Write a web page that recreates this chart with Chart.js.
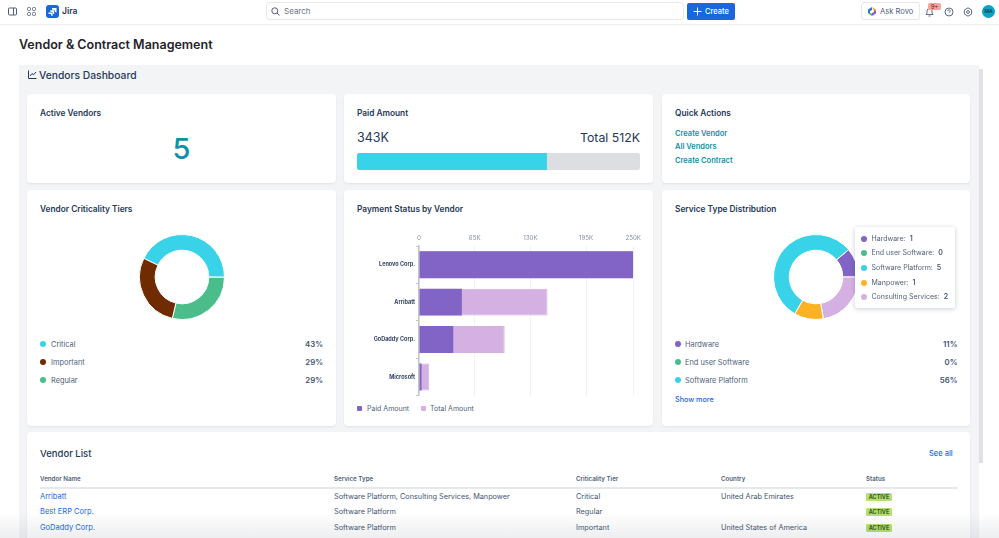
<!DOCTYPE html>
<html>
<head>
<meta charset="utf-8">
<title>Vendor & Contract Management</title>
<script src="https://cdn.jsdelivr.net/npm/chart.js@4/dist/chart.umd.min.js"></script>
<style>
  html, body { margin: 0; padding: 0; background: #fff; overflow: hidden; }
  body { width: 999px; height: 538px; position: relative; font-family: Inter, "Noto Sans", sans-serif; color: #172b4d; }
  .abs { position: absolute; }
  .t { position: absolute; white-space: nowrap; line-height: 12px; height: 12px; }
  .card { position: absolute; background: #fff; border-radius: 4px; box-shadow: 0 1px 2px rgba(9, 30, 66, .08); }
  .title { font-size: 8.3px; font-weight: 600; color: #253858; }
  .qa { font-size: 7.5px; font-weight: 600; color: #148fa8; }
  .lg { font-size: 7.4px; color: #505f79; }
  .pct { font-size: 7.8px; font-weight: 600; color: #44546f; text-align: right; }
  .dot { position: absolute; width: 6px; height: 6px; border-radius: 50%; }
  .sq { position: absolute; width: 5px; height: 5px; border-radius: 1px; }
  .th { font-size: 6.2px; font-weight: 600; color: #505f79; }
  .td { font-size: 7.3px; color: #44546f; }
  .link { font-size: 7.5px; color: #1868db; }
  .badge { position: absolute; width: 26px; height: 8px; background: #b3df72; border-radius: 1.5px; font-size: 5.5px; font-weight: 700; color: #3a5a14; text-align: center; line-height: 8px; }
  canvas { position: absolute; display: block; }
  #tip { position: absolute; left: 854.5px; top: 227px; width: 100px; height: 81px; background: #fff; border-radius: 2px; box-shadow: 0 1px 5px rgba(9, 30, 66, .22); z-index: 5; }
</style>
</head>
<body>

<!-- top bar -->
<div class="abs" style="left:0;top:0;width:999px;height:24px;border-bottom:1px solid #eceef0"></div>
<svg class="abs" style="left:8px;top:7px" width="9" height="9" viewBox="0 0 9 9" fill="none" stroke="#505f79"><rect x=".5" y="1" width="8" height="7" rx="1"/><path d="M5.5 1v7"/></svg>
<svg class="abs" style="left:27px;top:7px" width="9" height="9" viewBox="0 0 9 9" fill="none" stroke="#505f79" stroke-width=".9"><rect x=".5" y=".5" width="3" height="3" rx="1"/><rect x="5.5" y=".5" width="3" height="3" rx="1"/><rect x=".5" y="5.5" width="3" height="3" rx="1"/><rect x="5.5" y="5.5" width="3" height="3" rx="1"/></svg>
<svg class="abs" style="left:46px;top:5px" width="13" height="13" viewBox="0 0 13 13"><rect width="13" height="13" rx="3" fill="#1868db"/><path d="M6 3h4.500v4.500a1.800 1.800 0 0 1-1.800-1.800V4.800H6zM4.200 5.200h4v4a1.600 1.600 0 0 1-1.600-1.600V6.800H4.200zM2.500 7.500h4v3.500a1.600 1.600 0 0 1-1.600-1.600v-.4H2.500z" fill="#fff"/></svg>
<div class="t" style="left:62px;top:5px;font-size:8.5px;font-weight:600;color:#253858">Jira</div>
<div class="abs" style="left:266px;top:2px;width:416px;height:16px;border:1px solid #e6e8eb;border-radius:3px"></div>
<svg class="abs" style="left:271px;top:7px" width="9" height="9" viewBox="0 0 9 9" fill="none" stroke="#505f79"><circle cx="3.800" cy="3.800" r="3"/><path d="M6 6l2.500 2.500"/></svg>
<div class="t" style="left:284px;top:5px;font-size:8px;color:#6b778c">Search</div>
<div class="abs" style="left:687px;top:3px;width:48px;height:17px;background:#1868db;border-radius:2px"></div>
<svg class="abs" style="left:693px;top:7px" width="9" height="9" viewBox="0 0 9 9" stroke="#fff"><path d="M4.500 .5v8M.5 4.500h8"/></svg>
<div class="t" style="left:705px;top:6px;font-size:7.500px;font-weight:500;color:#fff">Create</div>
<div class="abs" style="left:861px;top:2px;width:57px;height:16px;border:1px solid #e6e8eb;border-radius:3px"></div>
<svg class="abs" style="left:868px;top:7px" width="8" height="9" viewBox="0 0 8 9"><path d="M0 2.500L4 0v3L2 4v3L0 6z" fill="#2f6fe0"/><path d="M4 0l4 2.500v2L5.500 3z" fill="#f5a623"/><path d="M8 4v2.500L4 9V6l2-1V3z" fill="#8a5cd6"/><path d="M0 6l4 3V7L2 5.500z" fill="#38b26a"/></svg>
<div class="t" style="left:880px;top:6px;font-size:7.600px;color:#505f79">Ask Rovo</div>
<svg class="abs" style="left:925px;top:7px" width="9" height="10" viewBox="0 0 9 10" fill="none" stroke="#505f79" stroke-width=".9"><path d="M1 7.500h7L7 6V4a2.500 2.500 0 0 0-5 0v2zM3.500 9h2"/></svg>
<div class="abs" style="left:928px;top:3px;width:13px;height:7px;background:#f8a5a0;border-radius:1.5px;font-size:6px;color:#6b1c14;text-align:center;line-height:7px">9+</div>
<svg class="abs" style="left:944px;top:7px" width="10" height="10" viewBox="0 0 10 10" fill="none" stroke="#505f79" stroke-width=".9"><circle cx="5" cy="5" r="4"/><path d="M3.800 4a1.200 1.200 0 1 1 1.600 1.100c-.3.200-.4.400-.4.800M5 7.300v.3"/></svg>
<svg class="abs" style="left:963px;top:7px" width="10" height="10" viewBox="0 0 10 10" fill="none" stroke="#505f79" stroke-width=".9"><path d="M5 .8l3.600 2.100v4.200L5 9.200 1.400 7.100V2.900z" stroke-linejoin="round"/><circle cx="5" cy="5" r="1.400"/></svg>
<div class="abs" style="left:982px;top:5px;width:13px;height:13px;border-radius:50%;background:#0aa3c4;font-size:5px;font-weight:600;color:#12404d;text-align:center;line-height:13px">MA</div>

<div class="t" style="left:19px;top:38px;font-size:12.500px;font-weight:600;color:#1f2329;line-height:14px;height:14px">Vendor &amp; Contract Management</div>

<!-- dashboard panel -->
<div class="abs" style="left:19px;top:65px;width:960px;height:473px;background:#f3f4f6"></div>
<div class="abs" style="left:979px;top:69px;width:4px;height:394px;background:#dfe1e5"></div>
<svg class="abs" style="left:27.500px;top:70px" width="9" height="9" viewBox="0 0 9 9" fill="none" stroke="#253858"><path d="M.5 .5v8h8M2 6l2-2.500 1.500 1.300L8 2"/></svg>
<div class="t" style="left:39px;top:69px;font-size:10.300px;font-weight:500;color:#253858">Vendors Dashboard</div>

<div class="card" style="left:27px;top:94px;width:309px;height:89px"></div>
<div class="card" style="left:344px;top:94px;width:309px;height:89px"></div>
<div class="card" style="left:662px;top:94px;width:308px;height:89px"></div>
<div class="card" style="left:27px;top:190px;width:309px;height:236px"></div>
<div class="card" style="left:344px;top:190px;width:309px;height:236px"></div>
<div class="card" style="left:662px;top:190px;width:308px;height:236px"></div>
<div class="card" style="left:27px;top:432px;width:943px;height:120px"></div>

<div class="t title" style="left:40px;top:107px">Active Vendors</div>
<div class="t" style="left:27px;width:309px;text-align:center;top:130px;height:38px;line-height:38px;font-size:29px;font-weight:500;color:#0f8fa8">5</div>

<div class="t title" style="left:357px;top:107px">Paid Amount</div>
<div class="t" style="left:357px;top:132px;font-size:12.500px;color:#253858">343K</div>
<div class="t" style="left:540px;width:100px;text-align:right;top:132px;font-size:12.300px;color:#253858">Total 512K</div>
<canvas id="progress" width="283" height="17" style="left:357px;top:153px"></canvas>

<div class="t title" style="left:675px;top:107px">Quick Actions</div>
<div class="t qa" style="left:675px;top:128px">Create Vendor</div>
<div class="t qa" style="left:675px;top:141px">All Vendors</div>
<div class="t qa" style="left:675px;top:155px">Create Contract</div>

<div class="t title" style="left:40px;top:203px">Vendor Criticality Tiers</div>
<canvas id="tiers" width="86" height="86" style="left:138.500px;top:234px"></canvas>
<div id="tiersLegend"></div>

<div class="t title" style="left:357px;top:203px">Payment Status by Vendor</div>
<canvas id="payments" width="300" height="171" style="left:345px;top:229px"></canvas>
<div id="paymentsLegend"></div>

<div class="t title" style="left:675px;top:203px">Service Type Distribution</div>
<canvas id="services" width="86" height="86" style="left:773.300px;top:234px"></canvas>
<div id="servicesLegend"></div>
<div class="t link" style="left:675px;top:394px;font-size:7.200px;font-weight:500">Show more</div>
<div id="tip"></div>

<div class="t" style="left:40px;top:448px;font-size:9.500px;font-weight:500;color:#253858">Vendor List</div>
<div class="t link" style="left:929px;top:448px;font-weight:500">See all</div>
<div id="vendorTable"></div>
<div class="abs" style="left:40px;top:487px;width:918px;height:1.500px;background:#e6e8eb"></div>

<!-- fade at the bottom edge of the page -->
<div class="abs" style="left:0;top:512px;width:999px;height:26px;z-index:9;background:linear-gradient(rgba(60,70,90,0),rgba(60,70,90,.09))"></div>

<script>
const vendors = ['Lenovo Corp.', 'Arribatt', 'GoDaddy Corp.', 'Microsoft'];
const paidAmount = [250000, 50000, 40000, 3000];
const totalAmount = [250000, 150000, 100000, 12000];
const paymentTicks = [0, 65000, 130000, 195000, 250000];

const paidTotal = [343000];
const contractTotal = [512000];

const tierLabels = ['Critical', 'Important', 'Regular'];
const tierCounts = [3, 2, 2];
const tierPercents = ['43%', '29%', '29%'];
const tierColors = ['#38d3e8', '#702b00', '#4bbd8b'];

const serviceLabels = ['Hardware', 'End user Software', 'Software Platform', 'Manpower', 'Consulting Services'];
const serviceCounts = [1, 0, 5, 1, 2];
const servicePercents = ['11%', '0%', '56%'];
const serviceColors = ['#8264c6', '#4bbd8b', '#38d3e8', '#fdb125', '#d5b1e3'];

const tableHeads = ['Vendor Name', 'Service Type', 'Criticality Tier', 'Country', 'Status'];
const tableRows = [
  ['Arribatt', 'Software Platform, Consulting Services, Manpower', 'Critical', 'United Arab Emirates', 'ACTIVE'],
  ['Best ERP Corp.', 'Software Platform', 'Regular', '', 'ACTIVE'],
  ['GoDaddy Corp.', 'Software Platform', 'Important', 'United States of America', 'ACTIVE']
];
const tableX = [40, 334, 576, 721, 866];
const tableY = [491, 506, 522];

// the donuts run the other way round: first slice, then the rest backwards
function backwards(list) {
  return [list[0]].concat(list.slice(1).reverse());
}

function addHtml(id, html) {
  document.getElementById(id).innerHTML += html;
}

// legend rows under the donuts
function legendRows(id, labels, percents, colors, dotX, textX, pctRight) {
  percents.forEach(function (p, i) {
    const y = 338 + i * 18;
    addHtml(id,
      '<div class="dot" style="left:' + dotX + 'px;top:' + (y + 3) + 'px;background:' + colors[i] + '"></div>' +
      '<div class="t lg" style="left:' + textX + 'px;top:' + (y + 0.6) + 'px">' + labels[i] + '</div>' +
      '<div class="t pct" style="left:' + (pctRight - 40) + 'px;width:40px;top:' + y + 'px">' + p + '</div>');
  });
}
legendRows('tiersLegend', tierLabels, tierPercents, tierColors, 40, 51, 323);
legendRows('servicesLegend', serviceLabels, servicePercents, serviceColors, 674.7, 685, 957.5);

// tooltip over the service donut
serviceLabels.forEach(function (label, i) {
  const y = 5.5 + i * 14.7;
  addHtml('tip',
    '<div class="dot" style="left:6.500px;top:' + (y + 3) + 'px;background:' + serviceColors[i] + '"></div>' +
    '<div class="t lg" style="left:17px;top:' + y + 'px;font-size:7px">' + label + ':&nbsp; <b style="font-weight:600;color:#44546f">' + serviceCounts[i] + '</b></div>');
});

addHtml('paymentsLegend',
  '<div class="sq" style="left:357px;top:405.500px;background:#8264c6"></div>' +
  '<div class="t lg" style="left:367px;top:402.500px;font-size:7px">Paid Amount</div>' +
  '<div class="sq" style="left:421px;top:405.500px;background:#d5b1e3"></div>' +
  '<div class="t lg" style="left:430px;top:402.500px;font-size:7px">Total Amount</div>');

tableHeads.forEach(function (head, c) {
  addHtml('vendorTable', '<div class="t th" style="left:' + tableX[c] + 'px;top:473px">' + head + '</div>');
});
tableRows.forEach(function (row, r) {
  row.forEach(function (cell, c) {
    if (c === 4) {
      addHtml('vendorTable', '<div class="badge" style="left:' + tableX[c] + 'px;top:' + (tableY[r] + 2) + 'px">' + cell + '</div>');
    } else {
      addHtml('vendorTable', '<div class="t ' + (c === 0 ? 'link' : 'td') + '" style="left:' + tableX[c] + 'px;top:' + tableY[r] + 'px">' + cell + '</div>');
    }
  });
});

Chart.defaults.font.family = 'Inter';
Chart.defaults.animation = false;
Chart.defaults.responsive = false;
Chart.defaults.maintainAspectRatio = false;
Chart.defaults.plugins.legend.display = false;
Chart.defaults.plugins.tooltip.enabled = false;

function donut(id, counts, colors, rotation) {
  return new Chart(document.getElementById(id), {
    type: 'doughnut',
    data: {
      labels: id === 'tiers' ? backwards(tierLabels) : backwards(serviceLabels),
      datasets: [{
        data: backwards(counts),
        backgroundColor: backwards(colors),
        borderColor: '#fff',
        borderWidth: 1
      }]
    },
    options: { cutout: '63%', rotation: rotation }
  });
}
donut('tiers', tierCounts, tierColors, -64);
donut('services', serviceCounts, serviceColors, 50);

new Chart(document.getElementById('progress'), {
  type: 'bar',
  data: {
    labels: ['Paid'],
    datasets: [
      { data: paidTotal, backgroundColor: '#38d3e8', borderRadius: { topLeft: 4, bottomLeft: 4 }, borderSkipped: false, order: 1 },
      { data: contractTotal, backgroundColor: '#dddee2', borderRadius: 4, borderSkipped: false, order: 2 }
    ]
  },
  options: {
    indexAxis: 'y',
    grouped: false,
    barPercentage: 1,
    categoryPercentage: 1,
    layout: { padding: 0 },
    scales: {
      x: { display: false, min: 0, max: contractTotal[0] },
      y: { display: false }
    }
  }
});

new Chart(document.getElementById('payments'), {
  type: 'bar',
  data: {
    labels: vendors,
    datasets: [
      { label: 'Paid Amount', data: paidAmount, backgroundColor: '#8264c6', order: 1 },
      { label: 'Total Amount', data: totalAmount, backgroundColor: '#d5b1e3', borderColor: '#d5b1e3', borderWidth: 1, order: 2 }
    ]
  },
  options: {
    indexAxis: 'y',
    grouped: false,
    layout: { padding: { right: 6 } },
    scales: {
      x: {
        position: 'top',
        min: 0,
        max: 250000,
        afterBuildTicks: function (axis) { axis.ticks = paymentTicks.map(function (v) { return { value: v }; }); },
        afterFit: function (axis) { axis.height = 17; },
        grid: { color: '#f1f2f4', drawTicks: false },
        border: { display: false },
        ticks: {
          padding: 4,
          maxRotation: 0,
          color: '#8590a2',
          font: { size: 6.2 },
          callback: function (v) { return v === 0 ? '0' : (v / 1000) + 'K'; }
        }
      },
      y: {
        afterFit: function (axis) { axis.width = 74; },
        grid: { drawOnChartArea: false, tickLength: 3, color: '#c1c4ca' },
        border: { color: '#c1c4ca', width: 1.5 },
        ticks: { padding: 1, color: '#344563', font: { size: 5.5, weight: '700' } }
      }
    }
  }
});
</script>
</body>
</html>
